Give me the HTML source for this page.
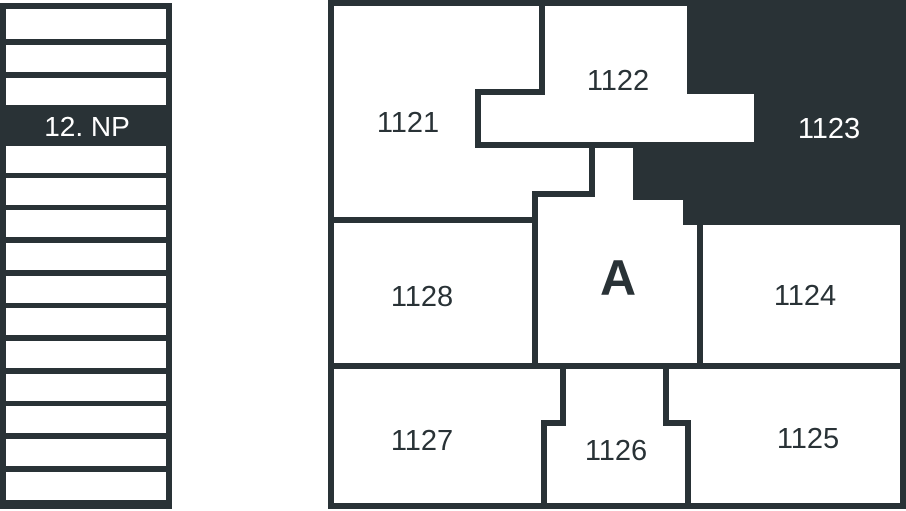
<!DOCTYPE html>
<html><head><style>html,body{margin:0;padding:0;background:#fff;}svg{display:block}</style></head>
<body>
<svg width="906" height="511" viewBox="0 0 906 511" xmlns="http://www.w3.org/2000/svg">
<g fill="#293236">
<rect x="0" y="3" width="172" height="506"/>
</g>
<g fill="#fff">
<rect x="6" y="9" width="160" height="30"/>
<rect x="6" y="45" width="160" height="27"/>
<rect x="6" y="78" width="160" height="27"/>
<rect x="6" y="146" width="160" height="27"/>
<rect x="6" y="178" width="160" height="27"/>
<rect x="6" y="210" width="160" height="27"/>
<rect x="6" y="243" width="160" height="27"/>
<rect x="6" y="276" width="160" height="27"/>
<rect x="6" y="308" width="160" height="27"/>
<rect x="6" y="341" width="160" height="27"/>
<rect x="6" y="374" width="160" height="27"/>
<rect x="6" y="406" width="160" height="27"/>
<rect x="6" y="439" width="160" height="27"/>
<rect x="6" y="472" width="160" height="28"/>
</g>
<text x="87" y="136" fill="#fff" font-family="Liberation Sans, sans-serif" font-size="28" text-anchor="middle">12. NP</text>

<polygon fill="#293236" points="687,3 903,3 903,225 683,225 683,200 633,200 633,142 754,142 754,94 687,94"/>
<g fill="none" stroke="#293236" stroke-width="6" stroke-linecap="square">
<rect x="331" y="3" width="572" height="503"/>
<path d="M542 3V92H478V145H636"/>
<path d="M592 145V194H535V366"/>
<path d="M331 220H535"/>
<path d="M700 225V366"/>
<path d="M331 366H903"/>
<path d="M563 366V423H544V506"/>
<path d="M666 366V423H688V506"/>
<path d="M478 145H592"/>
</g>
<g font-family="Liberation Sans, sans-serif" font-size="29" fill="#293236" text-anchor="middle">
<text x="408" y="132">1121</text>
<text x="618" y="90">1122</text>
<text x="829" y="138" fill="#fff">1123</text>
<text x="422" y="306">1128</text>
<text x="805" y="305">1124</text>
<text x="422" y="450">1127</text>
<text x="616" y="460">1126</text>
<text x="808" y="448">1125</text>
<text x="618" y="295" font-size="50" font-weight="bold">A</text>
</g>
</svg>
</body></html>
